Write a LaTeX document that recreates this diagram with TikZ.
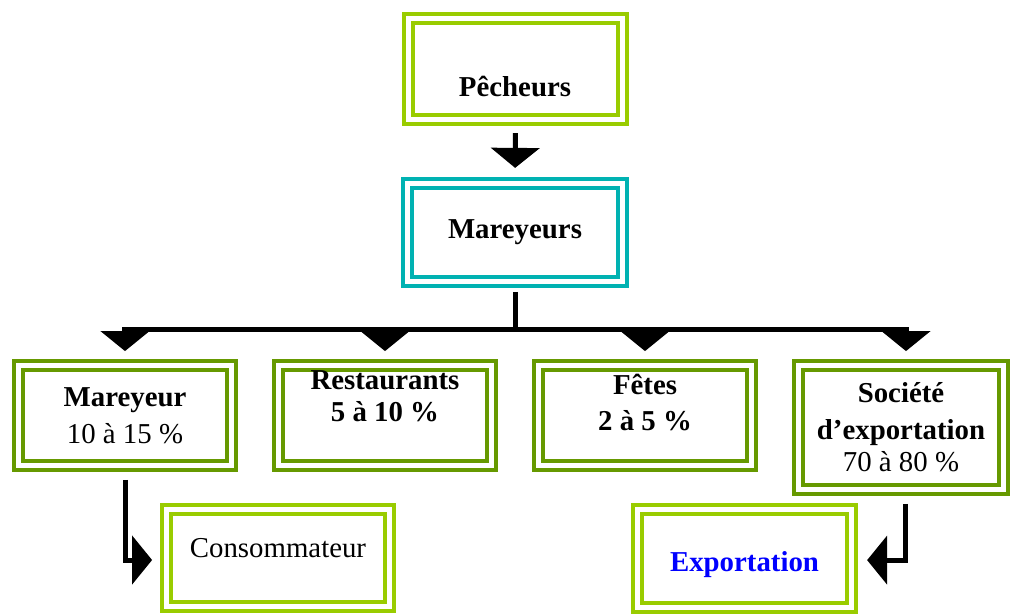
\documentclass[tikz,border=0pt]{standalone}
\usepackage{fontspec}
\setmainfont{Liberation Serif}
\usetikzlibrary{arrows.meta}
\definecolor{lightgreen}{RGB}{153,204,0}
\definecolor{darkgreen}{RGB}{102,153,0}
\definecolor{teal}{RGB}{0,178,178}
\tikzset{dblbox/.style={draw=#1, double=white, line width=0.1cm,
  double distance=0.125cm, inner sep=0pt, align=center,
  font=\fontsize{20.5}{26}\selectfont}}
\tikzset{boxsize/.style 2 args={minimum width=#1*0.025cm, minimum height=#2*0.025cm}}
\tikzset{flow/.style={line width=0.125cm, -{Triangle[width=1.2cm,length=0.5cm]}}}
\tikzset{trunk/.style={line width=0.125cm}}
\tikzset{lbl/.style={font=\fontsize{20.5}{26}\selectfont, align=center, inner sep=0pt}}

\begin{document}
\begin{tikzpicture}[x=0.025cm, y=-0.025cm]
      \useasboundingbox (0,0) rectangle (1010,614);

      % top of the chain
      \node [dblbox=lightgreen, boxsize={214}{101}] (pech) at (515.5,69) {};
      \node [lbl] (pechtxt) at (515,87) {\bfseries Pêcheurs};
      \node [dblbox=teal, boxsize={215}{98}] (mar) at (515,232.5) {\bfseries Mareyeurs};

      % the four outlets
      \node [dblbox=darkgreen, boxsize={213}{100}] (mar2) at (125,415.5) {\bfseries Mareyeur\\10 à 15 \%};
      \node [dblbox=darkgreen, boxsize={213}{100}] (resto) at (385,415.5) {};
      \node [lbl] (restotxt) at (385,396) {\bfseries Restaurants\\[-3pt]\bfseries 5 à 10 \%};
      \node [dblbox=darkgreen, boxsize={213}{100}] (fetes) at (645,415.5) {};
      \node [lbl] (fetestxt) at (645,402.5) {\bfseries Fêtes\\\bfseries 2 à 5 \%};
      \node [dblbox=darkgreen, boxsize={205}{124}] (soc) at (901,427.5) {\bfseries Société\\\bfseries d’exportation\\[-3pt]70 à 80 \%};

      % final destinations
      \node [dblbox=lightgreen, boxsize={223}{97}] (cons) at (278,558) {};
      \node [lbl] (constxt) at (278,548) {Consommateur};
      \node [dblbox=lightgreen, boxsize={214}{98}] (expo) at (744.5,558.5) {};
      \node [lbl, text=blue] (expotxt) at (744.5,565) {\bfseries Exportation};

      \draw [flow, shorten <=0.29cm, shorten >=0.34cm] (pech.south) -- (mar.south |- mar.north);

      \coordinate (bus) at (515,329);
      \coordinate (busl) at (122,329);
      \coordinate (busr) at (909,329);
      \draw [trunk, shorten <=0.21cm] (mar.south) -- (bus);
      \draw [trunk] (busl) -- (busr);

      \draw [flow, shorten >=0.31cm] (mar2.north |- bus) -- (mar2.north);
      \draw [flow, shorten >=0.31cm] (resto.north |- bus) -- (resto.north);
      \draw [flow, shorten >=0.31cm] (fetes.north |- bus) -- (fetes.north);
      \draw [flow, shorten >=0.31cm] ([xshift=0.125cm]soc.north |- bus) -- ([xshift=0.125cm]soc.north);

      \draw [flow, shorten <=0.31cm, shorten >=0.31cm] (mar2.south) |- ([yshift=-0.05cm]cons.west);
      \draw [flow, shorten <=0.31cm, shorten >=0.34cm] ([xshift=0.1cm]soc.south) |- ([yshift=-0.04cm]expo.east);
\end{tikzpicture}
\end{document}
